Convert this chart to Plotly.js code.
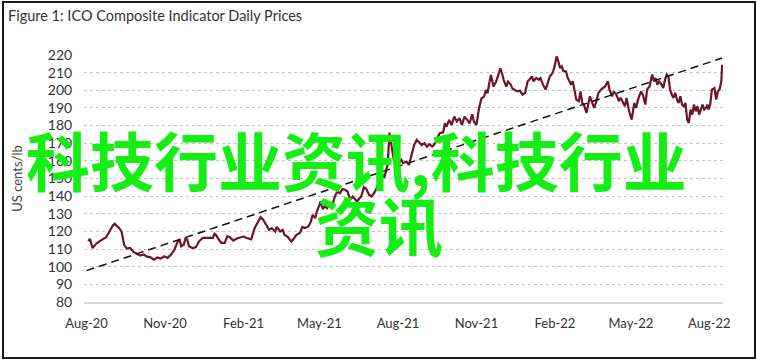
<!DOCTYPE html>
<html>
<head>
<meta charset="utf-8">
<script src="https://cdn.plot.ly/plotly-3.0.1.min.js"></script>
<style>
html,body{margin:0;padding:0;background:#fff;}
#wrap{position:relative;width:757px;height:364px;}
#chart{width:757px;height:364px;}
#frame{position:absolute;left:2px;top:1px;width:750px;height:354px;border:2px solid #1a1a1a;pointer-events:none;}
</style>
</head>
<body>
<div id="wrap"><div id="chart"></div><div id="frame"></div></div>
<script>
// ICO composite indicator daily prices (US cents/lb)
const dates = [
"2020-08-03","2020-08-05","2020-08-08","2020-08-12","2020-08-16","2020-08-20","2020-08-24","2020-08-28",
"2020-09-01","2020-09-03","2020-09-06","2020-09-08","2020-09-11","2020-09-14","2020-09-17","2020-09-21","2020-09-25","2020-09-29",
"2020-10-03","2020-10-07","2020-10-11","2020-10-15","2020-10-19","2020-10-23","2020-10-27","2020-10-31",
"2020-11-04","2020-11-08","2020-11-12","2020-11-16","2020-11-18","2020-11-20","2020-11-23","2020-11-25","2020-11-27","2020-11-29",
"2020-12-03","2020-12-07","2020-12-11","2020-12-15","2020-12-19","2020-12-23","2020-12-27","2020-12-29","2020-12-31",
"2021-01-03","2021-01-06","2021-01-10","2021-01-13","2021-01-16","2021-01-20","2021-01-24","2021-01-28",
"2021-02-01","2021-02-05","2021-02-10","2021-02-14","2021-02-18","2021-02-21","2021-02-24","2021-02-27",
"2021-03-03","2021-03-06","2021-03-10","2021-03-12","2021-03-16","2021-03-19","2021-03-21","2021-03-25","2021-03-29","2021-03-31",
"2021-04-04","2021-04-08","2021-04-11","2021-04-14","2021-04-18","2021-04-21","2021-04-23","2021-04-26","2021-04-28",
"2021-05-01","2021-05-02","2021-05-05","2021-05-07","2021-05-10","2021-05-13","2021-05-16","2021-05-19","2021-05-22","2021-05-25","2021-05-28","2021-05-31",
"2021-06-03","2021-06-06","2021-06-09","2021-06-12","2021-06-14","2021-06-17","2021-06-19","2021-06-22","2021-06-25","2021-06-28",
"2021-07-01","2021-07-04","2021-07-07","2021-07-09","2021-07-11","2021-07-13","2021-07-16","2021-07-20","2021-07-22","2021-07-25","2021-07-27","2021-07-30",
"2021-08-02","2021-08-05","2021-08-07","2021-08-11","2021-08-14","2021-08-17","2021-08-20","2021-08-23","2021-08-26","2021-08-29",
"2021-09-01","2021-09-04","2021-09-07","2021-09-10","2021-09-12","2021-09-15","2021-09-17","2021-09-19","2021-09-23","2021-09-25","2021-09-27","2021-09-30",
"2021-10-03","2021-10-06","2021-10-09","2021-10-12","2021-10-15","2021-10-18","2021-10-21","2021-10-24","2021-10-27","2021-10-29",
"2021-11-01","2021-11-02","2021-11-04","2021-11-07","2021-11-10","2021-11-12","2021-11-14","2021-11-16","2021-11-18","2021-11-21","2021-11-24","2021-11-26","2021-11-29",
"2021-12-01","2021-12-03","2021-12-06","2021-12-08","2021-12-11","2021-12-13","2021-12-16","2021-12-19","2021-12-22","2021-12-25","2021-12-28","2021-12-31",
"2022-01-02","2022-01-05","2022-01-07","2022-01-10","2022-01-13","2022-01-15","2022-01-18","2022-01-21","2022-01-23","2022-01-26","2022-01-28","2022-01-30",
"2022-02-01","2022-02-03","2022-02-05","2022-02-07","2022-02-09","2022-02-11","2022-02-14","2022-02-16","2022-02-18","2022-02-20","2022-02-22","2022-02-24","2022-02-26",
"2022-03-01","2022-03-03","2022-03-05","2022-03-07","2022-03-10","2022-03-12","2022-03-14","2022-03-16","2022-03-19","2022-03-21","2022-03-24","2022-03-27","2022-03-29",
"2022-04-01","2022-04-04","2022-04-06","2022-04-09","2022-04-11","2022-04-14","2022-04-17","2022-04-19","2022-04-22","2022-04-24","2022-04-26","2022-04-29",
"2022-05-02","2022-05-05","2022-05-07","2022-05-10","2022-05-13","2022-05-15","2022-05-18","2022-05-20","2022-05-23","2022-05-26","2022-05-28","2022-05-30",
"2022-06-01","2022-06-03","2022-06-06","2022-06-08","2022-06-10","2022-06-12","2022-06-14","2022-06-16","2022-06-18","2022-06-20","2022-06-22","2022-06-24","2022-06-26","2022-06-28","2022-06-30",
"2022-07-02","2022-07-04","2022-07-06","2022-07-08","2022-07-10","2022-07-12","2022-07-14","2022-07-16","2022-07-18","2022-07-20","2022-07-22","2022-07-24","2022-07-26","2022-07-28","2022-07-30","2022-07-31",
"2022-08-02","2022-08-04","2022-08-07","2022-08-09","2022-08-11","2022-08-13","2022-08-15","2022-08-16"
];
const prices = [
114.5,115.8,110.6,112.9,114.4,115.4,116.7,120.1,
123.5,124.3,123.0,122.0,120.0,112.5,110.3,110.6,108.4,107.2,
106.3,106.9,105.7,105.3,104.0,105.3,104.6,105.9,
105.0,106.9,109.7,114.4,115.4,111.6,112.5,116.0,115.4,111.6,
110.6,111.0,114.4,116.3,116.3,116.0,116.3,118.6,117.8,
115.4,113.5,113.5,117.3,116.7,114.8,116.0,116.7,
117.1,116.3,115.5,121.9,125.7,128.1,126.6,123.8,
120.9,121.9,120.0,122.5,120.0,120.9,118.1,116.8,114.3,115.3,
118.1,119.1,122.5,121.9,122.8,125.7,129.4,127.5,131.3,
135.1,137.0,132.6,134.2,133.2,136.0,134.5,139.8,142.6,141.7,144.0,143.6,
142.6,137.9,139.8,137.9,137.0,138.9,139.8,145.1,144.0,140.8,
139.8,141.7,144.5,147.4,150.2,153.0,150.5,158.0,176.0,166.0,161.0,157.0,
159.0,160.6,158.7,159.6,157.7,163.4,169.0,171.9,170.6,169.0,
170.0,168.1,169.4,168.1,169.0,171.0,173.8,175.7,176.2,181.3,179.4,183.2,
180.4,185.1,182.3,184.2,180.4,185.1,183.2,181.3,186.4,182.3,
180.4,183.2,189.8,195.5,196.4,200.2,198.3,204.0,208.7,202.1,204.9,207.7,212.5,
209.6,205.8,202.1,204.9,203.4,201.1,200.2,199.4,199.8,197.5,198.5,205.1,
206.0,207.9,205.1,207.0,206.0,207.0,203.2,200.4,203.2,207.9,208.9,210.8,
214.5,219.2,216.4,212.6,213.6,210.8,210.8,207.0,205.1,203.2,205.1,199.4,194.7,
193.8,199.4,192.8,191.9,187.2,192.8,196.6,193.8,190.0,192.8,198.5,200.4,201.3,
202.3,205.1,200.4,196.6,199.4,197.5,193.8,195.7,192.8,190.9,195.7,188.1,
183.4,192.8,190.0,195.7,199.4,197.5,191.9,200.4,202.3,208.9,205.1,207.0,
203.2,205.1,203.2,201.3,206.0,208.9,207.9,200.4,197.5,195.7,198.5,194.7,192.8,196.6,191.9,
190.9,192.8,183.4,181.5,189.1,186.2,191.9,188.1,190.9,186.2,189.1,191.9,189.1,190.0,191.9,189.1,
191.9,200.4,201.3,194.7,199.4,200.4,205.1,214.5
];
const trendDates = ["2020-08-01","2022-08-16"];
const trendValues = [97.8,218.3];
const xTickVals = ["2020-08-01","2020-11-01","2021-02-01","2021-05-01","2021-08-01","2021-11-01","2022-02-01","2022-05-01","2022-08-01"];
const xTickText = ["Aug-20","Nov-20","Feb-21","May-21","Aug-21","Nov-21","Feb-22","May-22","Aug-22"];
const yTickVals = [80,90,100,110,120,130,140,150,160,170,180,190,200,210,220];
const titleText = "Figure 1: ICO Composite Indicator Daily Prices";
const yTitle = "US cents/lb";
const watermark1 = "科技行业资讯,科技行业";
const watermark2 = "资讯";

const font = "Lato, 'Open Sans', sans-serif";
const traces = [
  {x: dates, y: prices, type: "scatter", mode: "lines",
   line: {color: "#6e1426", width: 2.2}, hoverinfo: "skip"},
  {x: trendDates, y: trendValues, type: "scatter", mode: "lines",
   line: {color: "#111", width: 1.5, dash: "8px,5px"}, hoverinfo: "skip"}
];
const layout = {
  width: 757, height: 364,
  margin: {l: 84, r: 34, t: 55, b: 62},
  paper_bgcolor: "#fff", plot_bgcolor: "#fff",
  showlegend: false,
  font: {family: font, size: 14, color: "#333"},
  title: {text: titleText, x: 8/757, xanchor: "left", xref: "container",
          y: 1 - 16/364, yanchor: "middle", yref: "container",
          font: {family: font, size: 14.5, color: "#333"}},
  xaxis: {type: "date", range: ["2020-07-29", "2022-08-17"],
          tickvals: xTickVals, ticktext: xTickText,
          showgrid: false, zeroline: false,
          showline: true, linecolor: "#d9d9d9", linewidth: 2,
          ticks: "outside", ticklen: 8, tickcolor: "rgba(0,0,0,0)",
          tickfont: {family: font, size: 13, color: "#333"}},
  yaxis: {range: [80, 220], tickvals: yTickVals,
          showgrid: true, gridcolor: "#c4c4c4", griddash: "dot", gridwidth: 1,
          zeroline: false, showline: false,
          ticks: "outside", ticklen: 8, tickcolor: "rgba(0,0,0,0)",
          tickfont: {family: font, size: 14, color: "#333"},
          title: {text: yTitle, standoff: 22, font: {family: font, size: 13, color: "#444"}}},
  annotations: [
    {text: watermark1, xref: "paper", yref: "paper", x: (356-84)/639, y: (302-158)/247,
     xanchor: "center", yanchor: "middle", showarrow: false,
     font: {family: "'Noto Sans CJK SC', sans-serif", size: 64, color: "#14ee14", weight: "bold"}},
    {text: watermark2, xref: "paper", yref: "paper", x: (379-84)/639, y: (302-223)/247,
     xanchor: "center", yanchor: "middle", showarrow: false,
     font: {family: "'Noto Sans CJK SC', sans-serif", size: 64, color: "#14ee14", weight: "bold"}}
  ]
};
Plotly.newPlot("chart", traces, layout, {staticPlot: true, displayModeBar: false});
</script>
</body>
</html>
